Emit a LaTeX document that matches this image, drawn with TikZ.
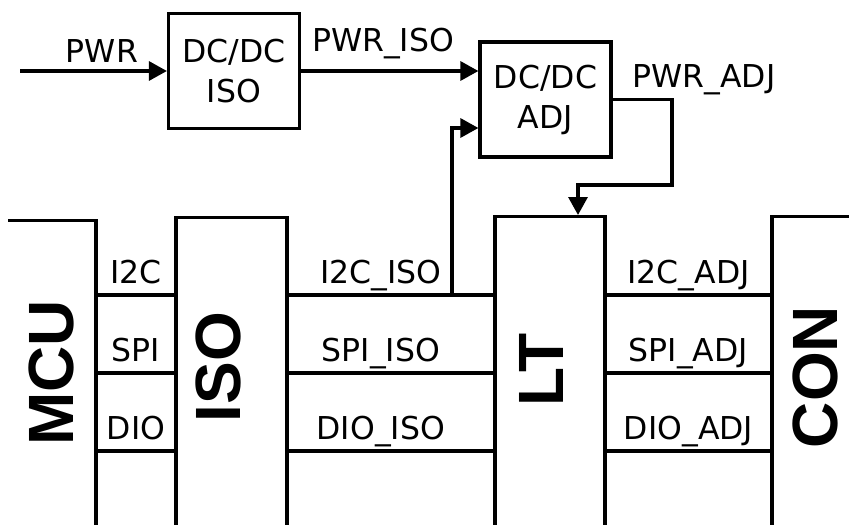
\documentclass[tikz,border=0pt]{standalone}
\usepackage{fontspec}
\setmainfont{DejaVu Sans}
\newfontfamily\blockfont{Liberation Sans}
\usetikzlibrary{arrows.meta,calc}

\begin{document}
\begin{tikzpicture}[x=0.5pt,y=-0.5pt, line width=1.6pt,
  every node/.style={font=\fontsize{15.75}{20}\selectfont, inner sep=0pt},
  box/.style={draw, align=center, minimum width=65.5pt, minimum height=57.5pt},
  blk/.style={draw, anchor=north, minimum height=195pt},
  big/.style={rotate=90, font=\blockfont\bfseries\fontsize{32}{32}\selectfont},
  arr/.style={-{Triangle[length=9pt,width=9.5pt]}},
  lbl/.style={anchor=base}]
  \useasboundingbox (0,0) rectangle (849,524);
  \clip (8,0) rectangle (849,524);
  % supply chain
  \node[box] (dciso) at (234,71) {DC/DC\\ISO};
  \node[box] (dcadj) at (545.5,99.5) {DC/DC\\ADJ};
  \coordinate (pwrin) at (20,71);
  \draw[arr] (pwrin) -- (dciso.west);
  \draw[arr] (dciso.east) -- (dciso.east -| dcadj.west);
  \node[lbl] (pwr) at (102,62) {PWR};
  \node[lbl] (pwriso) at (383,52) {PWR\_ISO};
  \node[lbl] (pwradj) at (704,88) {PWR\_ADJ};
  % blocks
  \node[blk, minimum width=68pt] (mcu) at (28,219) {};
  \node[blk, minimum width=55.5pt] (iso) at (231.5,216) {};
  \node[blk, minimum width=55pt] (lt) at (550,215) {};
  \node[blk, minimum width=64pt] (con) at (836,215) {};
  \node[big] (mcutxt) at (51,373) {MCU};
  \node[big] (isotxt) at (218,367) {ISO};
  \node[big] (lttxt) at (541,370) {LT};
  \node[big] (contxt) at (815,377) {CON};
  % buses
  \foreach \sig/\yy in {I2C/295,SPI/373,DIO/451}{
    \coordinate (l\sig) at (0,\yy);
    \draw (mcu.east |- l\sig) -- node[lbl, yshift=6pt] {\sig} (iso.west |- l\sig);
    \draw (iso.east |- l\sig) -- node[lbl, pos=.45, yshift=6pt] {\sig\_ISO} (lt.west |- l\sig);
    \draw (lt.east |- l\sig) -- node[lbl, yshift=6pt] {\sig\_ADJ} (con.west |- l\sig);
  }
  \coordinate (br) at (452,295);
  \draw[arr] (br) |- ($(dcadj.west)+(0,28.5)$);
  \draw[arr] (dcadj.east) -| (672,185) -| ($(lt.north)+(28,0)$);
\end{tikzpicture}
\end{document}
